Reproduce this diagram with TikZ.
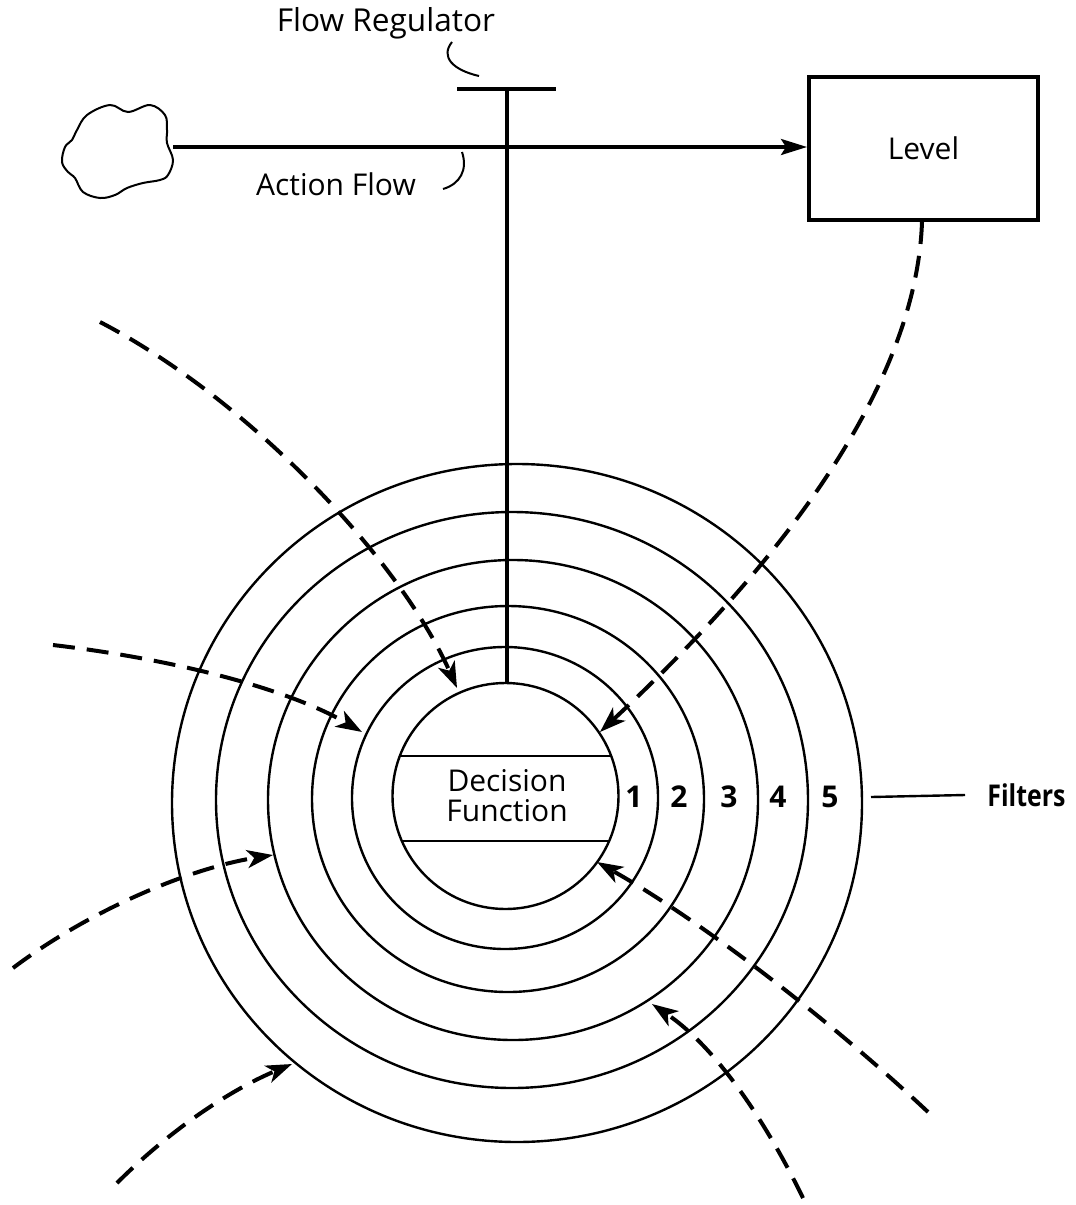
\documentclass[tikz,border=0pt]{standalone}
\usepackage{graphicx}
\usepackage{fontspec}
\setmainfont{Open Sans}
\usetikzlibrary{arrows.meta}

\begin{document}
\begin{tikzpicture}[x=0.5pt,y=-0.5pt,
  txt/.style={font=\fontsize{15}{15}\selectfont, inner sep=0pt},
  boldtxt/.style={txt, font=\fontsize{15}{15}\selectfont\bfseries},
  ring/.style={line width=1.2pt},
  thin/.style={line width=1pt},
  flowline/.style={line width=1.7pt, -{Stealth[length=13pt,width=8pt,inset=2.5pt]}},
  influence/.style={line width=2pt, dash pattern=on 11pt off 6pt,
    -{Stealth[length=13pt,width=9pt,inset=3.5pt]}},
  levelbox/.style={draw, line width=2pt, minimum width=114.5pt,
    minimum height=71.5pt, inner sep=0pt, font=\fontsize{15}{15}\selectfont}
]
\useasboundingbox (0,0) rectangle (1076,1205);

% ---------- source cloud and action flow ----------
\draw[thin] plot[smooth cycle, tension=0.6] coordinates {
  (62,162) (65,147) (72,140) (77,130) (87,115) (110,105) (128,112)
  (150,105) (165,115) (167,130) (167,143) (173,160) (168,175) (160,180)
  (143,183) (127,188) (115,195) (100,198) (83,192) (75,178) (68,172)};
\coordinate (source) at (173,147);

\node[levelbox] (level) at (923.5,148.5) {Level};
\draw[flowline] (source) -- (level.west |- source);

\node[txt, anchor=base] (actionlbl) at (336,195) {Action Flow};
\coordinate (af0) at (462,152);
\coordinate (af1) at (443,189);
\draw[thin] (af0) .. controls (468,170) and (460,184) .. (af1);

% ---------- flow regulator ----------
\node[txt, anchor=base, font=\fontsize{15.8}{16}\selectfont] (reglbl) at (386,31) {Flow Regulator};
\coordinate (rg0) at (452,42);
\coordinate (rg1) at (479,76);
\draw[thin] (rg0) .. controls (440,57) and (453,70) .. (rg1);

\coordinate (regL) at (457,89);
\coordinate (regR) at (556,89);
\coordinate (reg) at (507,89);
\draw[line width=2pt] (regL) -- (regR);

% ---------- filter rings ----------
\draw[ring] (517,803) ellipse [x radius=345, y radius=339];
\draw[ring] (512,800) ellipse [x radius=296, y radius=288];
\draw[ring] (513,800) ellipse [x radius=245, y radius=240];
\draw[ring] (508,799) ellipse [x radius=196, y radius=193];
\draw[ring] (505,798) ellipse [x radius=153, y radius=151];

% ---------- decision function core ----------
\node[circle, draw, ring, minimum size=113pt, inner sep=0pt] (core) at (505.5,796) {};
\draw[line width=1.8pt] (reg) -- (reg |- core.north);
\draw[ring] (400,756) -- (611,756);
\draw[ring] (402,841) -- (609,841);
\node[txt, align=center, font=\fontsize{15}{15}\selectfont] (dfun) at (507,796) {Decision\\Function};

% ring numbers
\node[boldtxt, anchor=base] (n1) at (634,807) {1};
\node[boldtxt, anchor=base] (n2) at (679,807) {2};
\node[boldtxt, anchor=base] (n3) at (729,807) {3};
\node[boldtxt, anchor=base] (n4) at (778,807) {4};
\node[boldtxt, anchor=base] (n5) at (830,807) {5};

\coordinate (fl0) at (871,797);
\node[boldtxt, anchor=west, inner xsep=11pt] (filters) at (965,795) {\scalebox{0.83}[1]{Filters}};
\draw[ring] (fl0) -- (filters.west);

% ---------- influences reaching the filters ----------
\coordinate (lv0) at (922,222);
\coordinate (lv1) at (600,732);
\draw[influence] (lv0) .. controls (915,420) and (720,620) .. (lv1);

\coordinate (tl0) at (100,322);
\coordinate (tl1) at (457,688);
\draw[influence] (tl0) .. controls (250,400) and (400,560) .. (tl1);

\coordinate (lm0) at (53,645);
\coordinate (lm1) at (362,732);
\draw[influence] (lm0) .. controls (180,660) and (290,690) .. (lm1);

\coordinate (ll0) at (13,968);
\coordinate (ll1) at (273,855);
\draw[influence] (ll0) .. controls (90,910) and (190,868) .. (ll1);

\coordinate (bl0) at (117,1183);
\coordinate (bl1) at (292,1064);
\draw[influence] (bl0) .. controls (170,1130) and (230,1090) .. (bl1);

\coordinate (lr0) at (928,1112);
\coordinate (lr1) at (597,862);
\draw[influence] (lr0) .. controls (830,1020) and (700,920) .. (lr1);

\coordinate (br0) at (803,1198);
\coordinate (br1) at (652,1004);
\draw[influence] (br0) .. controls (770,1130) and (720,1050) .. (br1);
\end{tikzpicture}
\end{document}
